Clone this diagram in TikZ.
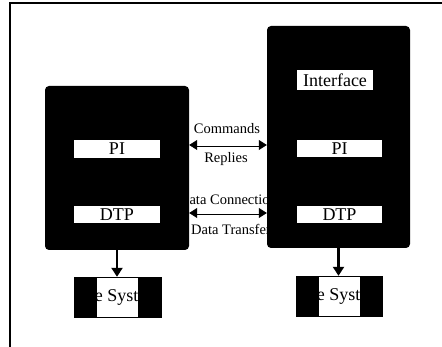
\documentclass[tikz,border=0pt]{standalone}
\usepackage{fontspec}
\setmainfont{Liberation Serif}
\usetikzlibrary{arrows.meta}
\usetikzlibrary{positioning}
\usepackage{xcolor}

\tikzset{
 host/.style={fill=black, rounded corners=4pt, inner sep=0},
 proc/.style={fill=white, inner sep=0, minimum height=18pt, font=\fontsize{18}{20}\selectfont},
 fsbox/.style={fill=black, inner sep=0, minimum width=88pt, minimum height=41pt},
 lbl/.style={font=\fontsize{14.5}{16}\selectfont, inner sep=0},
 link/.style={black, double, double distance=3pt, line width=.7pt, {Triangle[length=8pt,width=10pt]}-{Triangle[length=8pt,width=10pt]}},
 down/.style={black, line width=2.5pt, -{Triangle[length=9pt,width=11pt]}},
}

\begin{document}
\begin{tikzpicture}[x=1pt,y=-1pt]
\useasboundingbox (0,0) rectangle (442,347);
\draw[black, line width=1.2pt] (10,347)--(10,3)--(442,3);
\node[lbl] (cmd) at (227,129) {Commands};
\node[lbl] (rep) at (226,159) {Replies};
\node[lbl] (dcon) at (228,200) {Data Connection};
\node[lbl] (dtr) at (231,229) {Data Transfer};
\node[host, minimum width=144pt, minimum height=164pt] (lhost) at (117,168) {};
\node[host, minimum width=143pt, minimum height=222pt] (rhost) at (338.5,137) {};
\node[proc, minimum width=86pt] (lpi) at (117,149) {PI};
\node[proc, minimum width=86pt, minimum height=17pt] (ldtp) at (117,214.5) {DTP};
\node[proc, minimum width=76pt, minimum height=20pt] (rif) at (335,80) {Interface};
\node[proc, minimum width=85pt, minimum height=17pt] (rpi) at (339.5,148.5) {PI};
\node[proc, minimum width=85pt, minimum height=17pt] (rdtp) at (339.5,214.5) {DTP};
\draw[link] ([yshift=4pt]lpi.center -| lhost.east) -- ([yshift=4pt]lpi.center -| rhost.west);
\draw[link] ([yshift=1.5pt]ldtp.center -| lhost.east) -- ([yshift=1.5pt]ldtp.center -| rhost.west);
\node[fsbox] (lfs) at (117.5,297.5) {};
\node[fsbox, minimum width=87pt] (rfs) at (339.5,296.5) {};
\foreach \fs in {lfs,rfs} {
 \begin{scope}
 \clip ([xshift=-20.5pt,yshift=-19.3pt]\fs.center) rectangle ([xshift=20.5pt,yshift=19.3pt]\fs.center);
 \fill[white] ([xshift=-20.5pt,yshift=-19.3pt]\fs.center) rectangle ([xshift=20.5pt,yshift=19.3pt]\fs.center);
 \node[proc, fill=none] at (\fs.center) {File System};
 \end{scope}
}
\draw[down] (lhost.south) -- (lhost.south |- lfs.north);
\draw[down] (rhost.south) -- (rhost.south |- rfs.north);
\end{tikzpicture}
\end{document}
